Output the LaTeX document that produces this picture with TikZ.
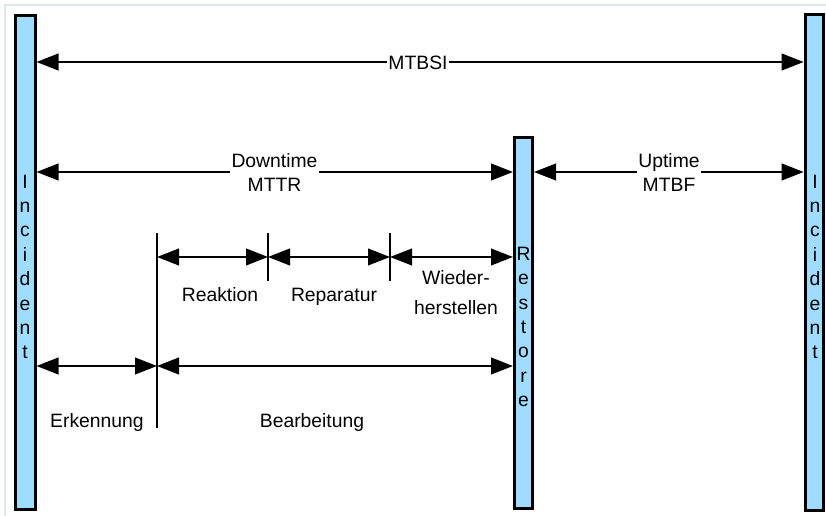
\documentclass[tikz,border=0pt]{standalone}
\usepackage{fontspec}
\setmainfont{Liberation Sans}
\usetikzlibrary{arrows.meta}
\definecolor{barblue}{RGB}{160,220,255}
\definecolor{framecol}{RGB}{222,232,236}
\begin{document}
\begin{tikzpicture}[x=0.75pt,y=-0.75pt,
  bar/.style={draw=black,fill=barblue,line width=2.25pt,rectangle,inner sep=0pt,minimum width=15pt},
  dbl/.style={line width=1.5pt,{Triangle[length=16.5pt,width=12.5pt]}-{Triangle[length=16.5pt,width=12.5pt]}},
  tickline/.style={line width=1.5pt},
  lbl/.style={font=\fontsize{14.5}{18}\selectfont,inner sep=0pt,align=center},
  onl/.style={lbl,fill=white,inner xsep=1pt},
  vtxt/.style={font=\fontsize{14.5}{18.3}\selectfont,inner sep=0pt,align=center}]
\useasboundingbox (0,0) rectangle (826,516);
\draw[framecol,line width=1.2pt] (5,516) -- (5,5) -- (826,5);
% bars
\node[bar,minimum height=371pt] (incL) at (25,262.5) {};
\node[bar,minimum width=13.5pt,minimum height=278.25pt] (rest) at (523.5,323) {};
\node[bar,minimum width=14pt,minimum height=372pt] (incR) at (814.5,262.5) {};
\node[vtxt] (incLt) at (25,267) {I\\n\\c\\i\\d\\e\\n\\t};
\node[vtxt] (restt) at (523.5,327) {R\\e\\s\\t\\o\\r\\e};
\node[vtxt] (incRt) at (815,267) {I\\n\\c\\i\\d\\e\\n\\t};
% levels
\coordinate (yA) at (0,62);
\coordinate (yB) at (0,172);
\coordinate (yC) at (0,257);
\coordinate (yD) at (0,366);
% ticks
\coordinate (t1top) at (157,233);
\coordinate (t1bot) at (157,428);
\coordinate (t2top) at (268,233);
\coordinate (t2bot) at (268,281);
\coordinate (t3top) at (390,233);
\coordinate (t3bot) at (390,281);
\draw[tickline] (t1top) -- (t1bot);
\draw[tickline] (t2top) -- (t2bot);
\draw[tickline] (t3top) -- (t3bot);
% arrows
\draw[dbl] (incL.east |- yA) -- (incR.west |- yA);
\draw[dbl] (incL.east |- yB) -- (rest.west |- yB);
\draw[dbl] (rest.east |- yB) -- (incR.west |- yB);
\draw[dbl] (t1top |- yC) -- (t2top |- yC);
\draw[dbl] (t2top |- yC) -- (t3top |- yC);
\draw[dbl] (t3top |- yC) -- (rest.west |- yC);
\draw[dbl] (incL.east |- yD) -- (t1top |- yD);
\draw[dbl] (t1top |- yD) -- (rest.west |- yD);
% labels
\node[onl,inner ysep=1pt] (mtbsi) at (418,63) {MTBSI};
\node[onl] (down) at (274.5,172) {Downtime\\MTTR};
\node[onl] (up) at (669,172) {Uptime\\MTBF};
\node[lbl,anchor=base] (reak) at (220,302) {Reaktion};
\node[lbl,anchor=base] (repa) at (334,302) {Reparatur};
\node[lbl,anchor=base,font=\fontsize{14.5}{22.5}\selectfont] (wied) at (456,315) {Wieder-\\herstellen};
\node[lbl,anchor=base] (erk) at (97,428) {Erkennung};
\node[lbl,anchor=base] (bear) at (312,428) {Bearbeitung};
\end{tikzpicture}
\end{document}
